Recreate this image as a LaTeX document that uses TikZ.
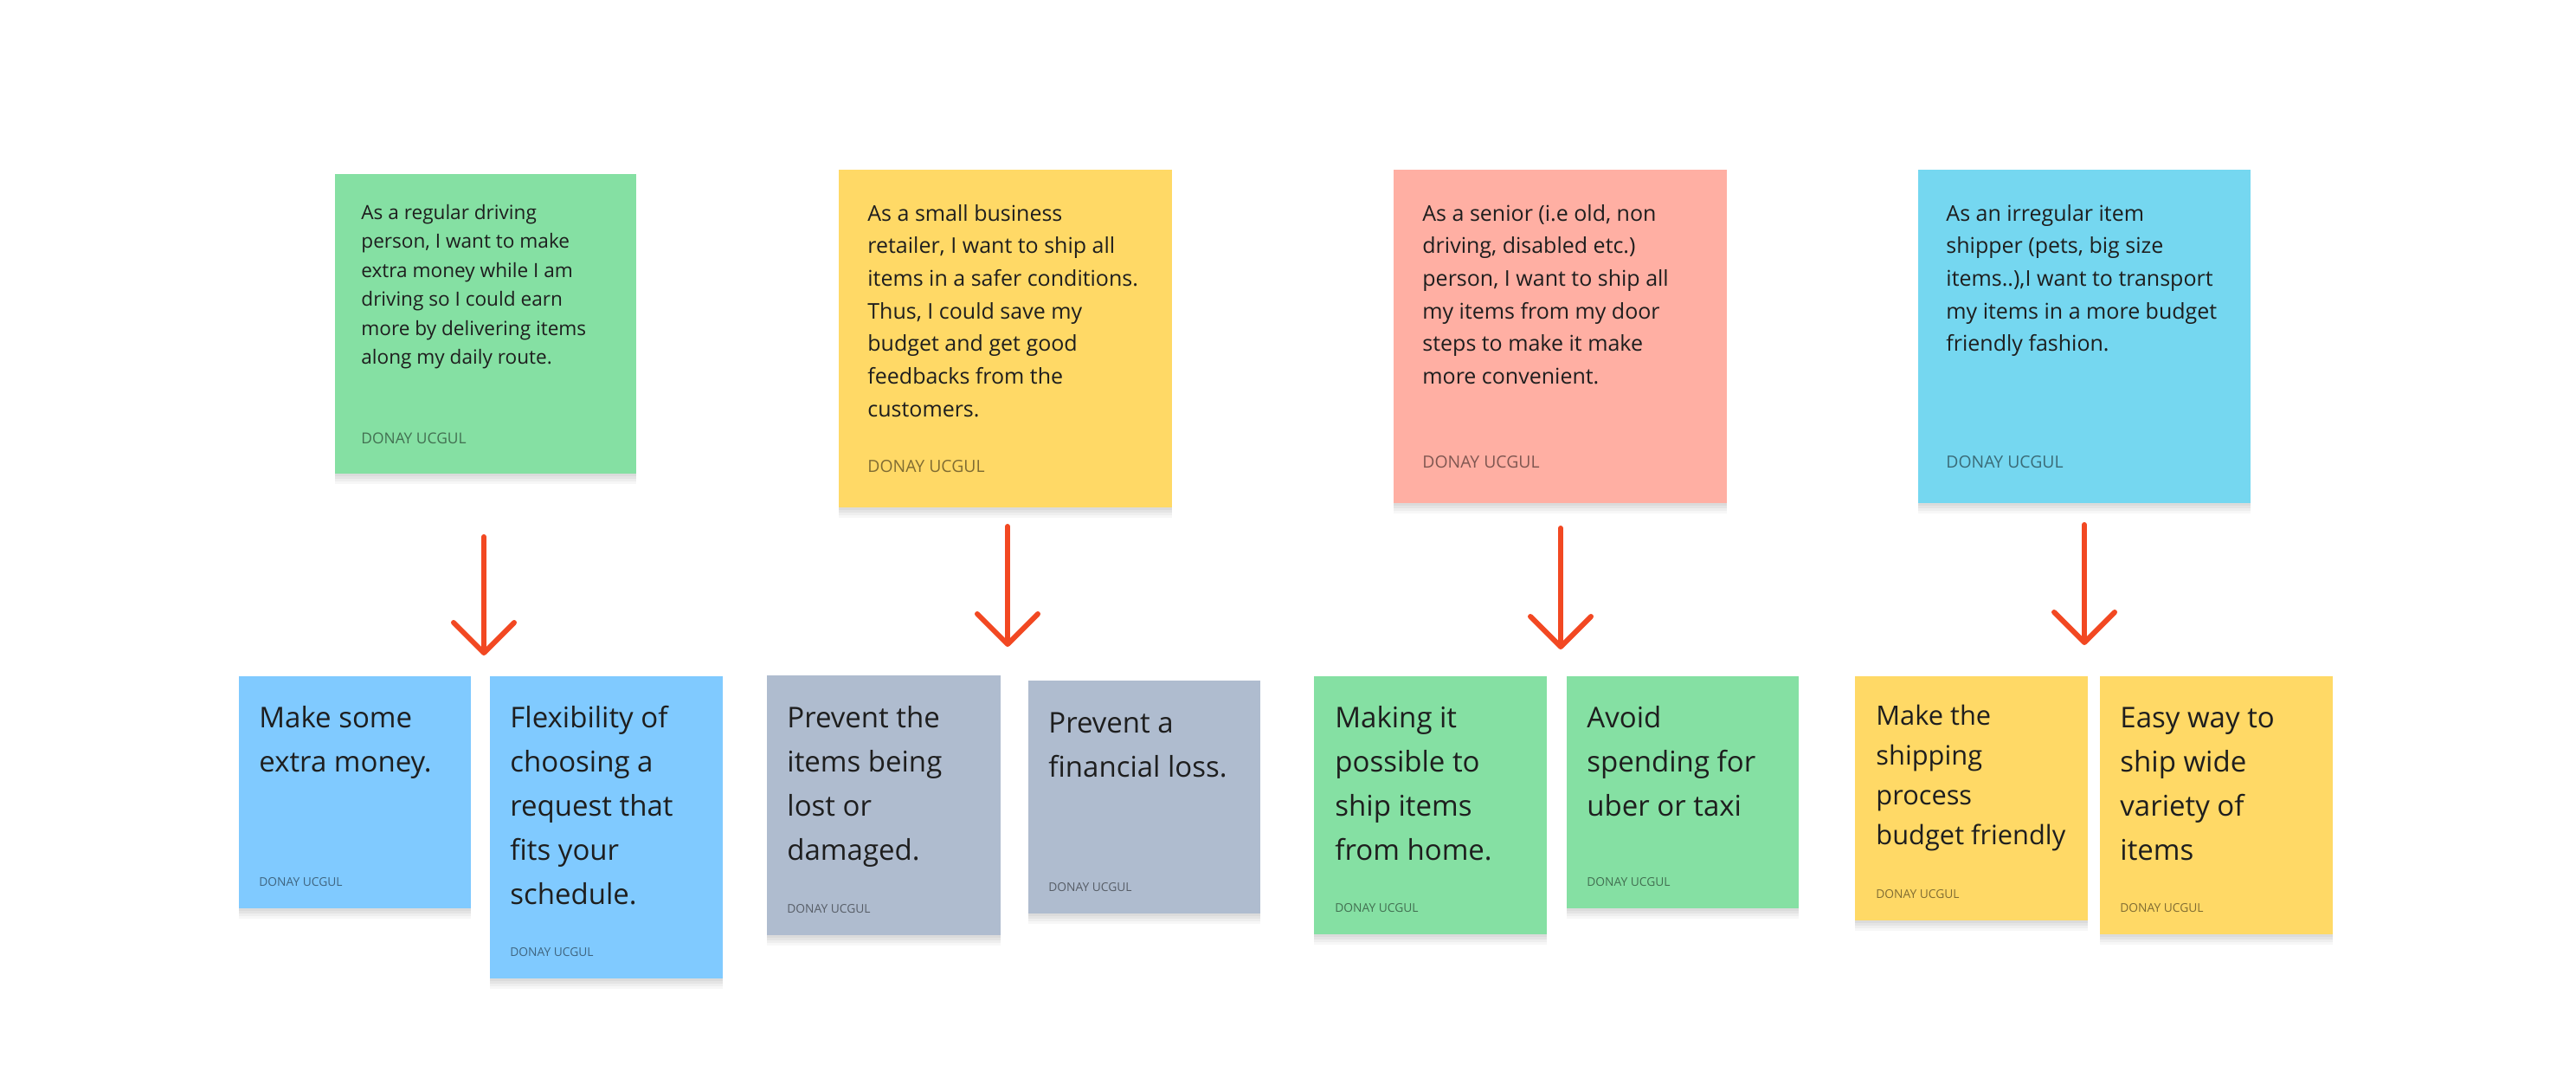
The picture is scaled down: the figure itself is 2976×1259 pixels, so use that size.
\documentclass[tikz,border=0pt]{standalone}
\usepackage{fontspec}
\setmainfont{Open Sans}
\usepackage{xcolor}
\usetikzlibrary{arrows.meta}
\definecolor{stgreen}{HTML}{85E0A3}
\definecolor{styellow}{HTML}{FFD966}
\definecolor{stred}{HTML}{FFAFA3}
\definecolor{stcyan}{HTML}{75D7F0}
\definecolor{stblue}{HTML}{80CAFF}
\definecolor{stgrey}{HTML}{AFBCCF}
\definecolor{arrowred}{HTML}{F24822}
\definecolor{ink}{HTML}{1E1E1E}
\tikzset{
  sticky/.style={rectangle, anchor=north west, inner sep=0pt, outer sep=0pt,
    preaction={fill=black, fill opacity=0.03, transform canvas={yshift=-6pt}},
    preaction={fill=black, fill opacity=0.035, transform canvas={yshift=-4.5pt}},
    preaction={fill=black, fill opacity=0.04, transform canvas={yshift=-3pt}},
    preaction={fill=black, fill opacity=0.04, transform canvas={yshift=-1.5pt}}},
  story/.style={anchor=base west, align=left, inner sep=0pt, text=ink, font=\fontsize{12.5}{18.85}\selectfont},
  goal/.style={anchor=base west, align=left, inner sep=0pt, text=ink, font=\fontsize{16.5}{25.5}\selectfont},
  author/.style={anchor=base west, inner sep=0pt, text=black, text opacity=0.5, font=\fontsize{9.7}{12}\selectfont},
  smallauthor/.style={author, font=\fontsize{6.9}{9}\selectfont},
  flow/.style={draw=arrowred, line width=3pt, line cap=round, line join=round, -{Straight Barb[length=17.5pt, width=35pt, round]}}
}

\begin{document}
\begin{tikzpicture}[x=0.5pt, y=-0.5pt]
\fill[white] (0,0) rectangle (2976,1259);
\useasboundingbox (0,0) rectangle (2976,1259);
% user stories (text nodes sit on the baseline of their last line)
\node[sticky, fill=stgreen, minimum width=174pt, minimum height=173pt] (t1) at (387,201) {};
\node[story, font=\fontsize{11.3}{16.75}\selectfont] (t1txt) at (417,420.5) {As a regular driving\\person, I want to make\\extra money while I am\\driving so I could earn\\more by delivering items\\along my daily route.};
\node[author, font=\fontsize{8.7}{10}\selectfont] (t1by) at (417,512) {DONAY UCGUL};
\node[sticky, fill=styellow, minimum width=192.5pt, minimum height=195pt] (t2) at (969,196) {};
\node[story] (t2txt) at (1002,481.2) {As a small business\\retailer, I want to ship all\\items in a safer conditions.\\Thus, I could save my\\budget and get good\\feedbacks from the\\customers.};
\node[author] (t2by) at (1002,545) {DONAY UCGUL};
\node[sticky, fill=stred, minimum width=192.5pt, minimum height=192.5pt] (t3) at (1610,196) {};
\node[story] (t3txt) at (1643,443.5) {As a senior (i.e old, non\\driving, disabled etc.)\\person, I want to ship all\\my items from my door\\steps to make it make\\more convenient.};
\node[author] (t3by) at (1643,540) {DONAY UCGUL};
\node[sticky, fill=stcyan, minimum width=192pt, minimum height=192.5pt] (t4) at (2216,196) {};
\node[story] (t4txt) at (2248,405.8) {As an irregular item\\shipper (pets, big size\\items..),I want to transport\\my items in a more budget\\friendly fashion.};
\node[author] (t4by) at (2248,540) {DONAY UCGUL};

% arrows
\coordinate (a1) at (559,620); \coordinate (a1e) at (559,757);
\coordinate (a2) at (1164,608); \coordinate (a2e) at (1164,747);
\coordinate (a3) at (1803,610); \coordinate (a3e) at (1803,750);
\coordinate (a4) at (2408,606); \coordinate (a4e) at (2408,745);
\draw[flow] (a1) -- (a1e);
\draw[flow] (a2) -- (a2e);
\draw[flow] (a3) -- (a3e);
\draw[flow] (a4) -- (a4e);

% goals
\node[sticky, fill=stblue, minimum width=134pt, minimum height=134pt] (b1) at (276,781) {};
\node[goal] (b1txt) at (299,891) {Make some\\extra money.};
\node[smallauthor] (b1by) at (299,1023) {DONAY UCGUL};
\node[sticky, fill=stblue, minimum width=134.5pt, minimum height=174.5pt] (b2) at (566,781) {};
\node[goal] (b2txt) at (589,1044) {Flexibility of\\choosing a\\request that\\fits your\\schedule.};
\node[smallauthor] (b2by) at (589,1104) {DONAY UCGUL};
\node[sticky, fill=stgrey, minimum width=135pt, minimum height=150pt] (b3) at (886,780) {};
\node[goal] (b3txt) at (909,993) {Prevent the\\items being\\lost or\\damaged.};
\node[smallauthor] (b3by) at (909,1054) {DONAY UCGUL};
\node[sticky, fill=stgrey, minimum width=134pt, minimum height=134.5pt] (b4) at (1188,786) {};
\node[goal] (b4txt) at (1211,897) {Prevent a\\financial loss.};
\node[smallauthor] (b4by) at (1211,1029) {DONAY UCGUL};
\node[sticky, fill=stgreen, minimum width=134.5pt, minimum height=149pt] (b5) at (1518,781) {};
\node[goal] (b5txt) at (1542,993) {Making it\\possible to\\ship items\\from home.};
\node[smallauthor] (b5by) at (1542,1053) {DONAY UCGUL};
\node[sticky, fill=stgreen, minimum width=134pt, minimum height=134pt] (b6) at (1810,781) {};
\node[goal] (b6txt) at (1833,942) {Avoid\\spending for\\uber or taxi};
\node[smallauthor] (b6by) at (1833,1023) {DONAY UCGUL};
\node[sticky, fill=styellow, minimum width=134.5pt, minimum height=141pt] (b7) at (2143,781) {};
\node[goal, font=\fontsize{15.4}{23}\selectfont] (b7txt) at (2167,975) {Make the\\shipping\\process\\budget friendly};
\node[smallauthor] (b7by) at (2167,1037) {DONAY UCGUL};
\node[sticky, fill=styellow, minimum width=134.5pt, minimum height=149pt] (b8) at (2426,781) {};
\node[goal] (b8txt) at (2449,993) {Easy way to\\ship wide\\variety of\\items};
\node[smallauthor] (b8by) at (2449,1053) {DONAY UCGUL};
\end{tikzpicture}
\end{document}
